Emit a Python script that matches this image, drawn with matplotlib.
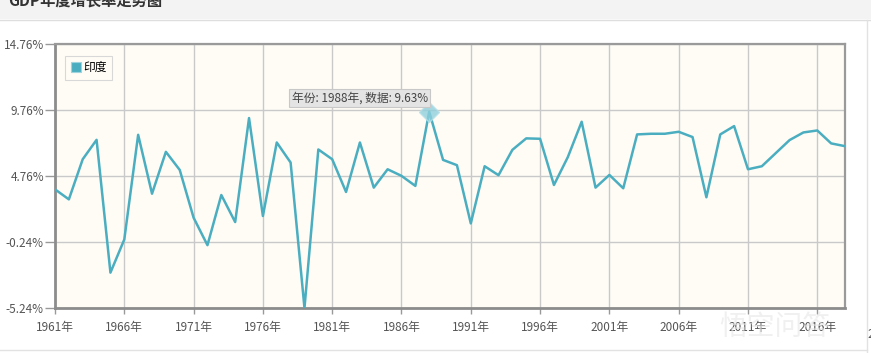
import matplotlib.pyplot as plt
from matplotlib.patches import Rectangle, Patch

plt.rcParams['font.family'] = ['Noto Sans CJK SC', 'DejaVu Sans']

# India annual GDP growth (%)
years = list(range(1961, 2019))
growth = [3.75, 2.99, 6.03, 7.50, -2.56, -0.05, 7.88, 3.42, 6.59, 5.22,
          1.60, -0.48, 3.32, 1.27, 9.15, 1.73, 7.30, 5.78, -5.24, 6.77,
          6.03, 3.55, 7.30, 3.88, 5.27, 4.77, 4.01, 9.63, 5.98, 5.58,
          1.17, 5.50, 4.82, 6.74, 7.61, 7.58, 4.08, 6.19, 8.87, 3.88,
          4.84, 3.83, 7.91, 7.96, 7.96, 8.11, 7.71, 3.15, 7.91, 8.54,
          5.27, 5.50, 6.49, 7.48, 8.06, 8.21, 7.23, 7.02]
ytick_vals = [-5.24, -0.24, 4.76, 9.76, 14.76]
xtick_years = list(range(1961, 2017, 5))
series_name = '印度'
hover_year = 1988

line_color = '#4aaec0'

fig = plt.figure(figsize=(8.71, 3.53), dpi=100)
fig.patch.set_facecolor('white')

# header band with the (cut off) title
fig.patches.append(Rectangle((0, 1 - 19 / 353), 1, 19 / 353, transform=fig.transFigure,
                             facecolor='#f3f3f3', edgecolor='none', zorder=0))
fig.lines.append(plt.Line2D([0, 1], [1 - 19.5 / 353] * 2, transform=fig.transFigure,
                            color='#dedede', lw=1))
fig.text(8 / 871, 1 - 1 / 353, 'GDP年度增长率走势图', fontsize=11, color='#333333',
         fontweight='bold', va='center', ha='left')
# outer panel border
fig.lines.append(plt.Line2D([866.5 / 871] * 2, [0, 1 - 20 / 353], transform=fig.transFigure,
                            color='#e2e2e2', lw=1))
fig.lines.append(plt.Line2D([0, 866.5 / 871], [3.5 / 353] * 2, transform=fig.transFigure,
                            color='#e2e2e2', lw=1))

ax = fig.add_axes([55 / 871, 45 / 353, 790 / 871, 264 / 353])
ax.set_facecolor('#fffcf5')

ax.plot(years, growth, color=line_color, lw=1.8, zorder=3)

# highlighted point and tooltip
hi = years.index(hover_year)
ax.plot(years[hi], growth[hi], marker='D', markersize=10, color='#8fd0dc', alpha=0.8,
        markeredgecolor='#b6e0e8', zorder=4)
ax.annotate('年份: %d年, 数据: %.2f%%' % (hover_year, growth[hi]),
            xy=(years[hi], growth[hi]), xytext=(-1, 5), textcoords='offset points',
            ha='right', va='bottom', fontsize=8.5, color='#444444',
            bbox=dict(boxstyle='square,pad=0.2', facecolor='#e4e4e4',
                      edgecolor='#c8c8c8', lw=0.8), zorder=5)

ax.set_xlim(1961, 2018)
ax.set_ylim(ytick_vals[0], ytick_vals[-1])
ax.set_xticks(xtick_years)
ax.set_xticklabels(['%d年' % y for y in xtick_years])
ax.set_yticks(ytick_vals)
ax.set_yticklabels(['%.2f%%' % v for v in ytick_vals])
ax.tick_params(axis='y', length=7, width=1, color='#999999', labelsize=8.5,
               labelcolor='#555555', pad=1)
ax.tick_params(axis='x', length=4, width=1, color='#999999', labelsize=8.5,
               labelcolor='#555555', pad=5)
# next label, beyond the axis end
ax.text(2021, -0.075, '2021年', transform=ax.get_xaxis_transform(), ha='center',
        va='top', fontsize=8.5, color='#555555', clip_on=False)

ax.grid(True, color='#c9c9c9', lw=1)
ax.set_axisbelow(True)
for side in ['left', 'bottom']:
    ax.spines[side].set_color('#8c8c8c')
    ax.spines[side].set_linewidth(2)
for side in ['top', 'right']:
    ax.spines[side].set_color('#9a9a9a')
    ax.spines[side].set_linewidth(1.6)

handle = Patch(facecolor=line_color, edgecolor='#9fd4de', lw=0.8)
leg = ax.legend([handle], [series_name], loc='upper left',
                bbox_to_anchor=(0.013, 0.955), fontsize=8.5,
                handlelength=0.9, handleheight=0.9, handletextpad=0.15,
                borderpad=0.45, borderaxespad=0, fancybox=False, framealpha=1,
                facecolor='#fffcf5', edgecolor='#d8d8d8')
leg.get_frame().set_linewidth(0.8)

# faint watermark
fig.text(0.89, 0.075, '悟空问答', fontsize=20, color='#e6e6e6', alpha=0.6,
         ha='center', va='center', zorder=10)

fig.savefig('out.png', dpi=100, facecolor=fig.get_facecolor())
